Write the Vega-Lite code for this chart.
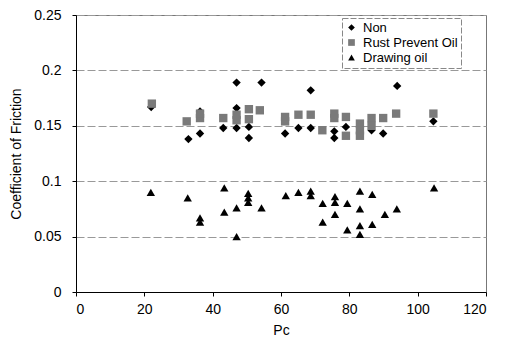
{
  "$schema": "https://vega.github.io/schema/vega-lite/v6.json",
  "width": 410,
  "height": 277,
  "autosize": "none",
  "padding": {"left": 76, "top": 15, "right": 23, "bottom": 47},
  "background": "white",
  "data": {"values": [
    {"pc": 22, "cof": 0.167, "s": "Non"},
    {"pc": 32.9, "cof": 0.138, "s": "Non"},
    {"pc": 36.3, "cof": 0.163, "s": "Non"},
    {"pc": 36.3, "cof": 0.143, "s": "Non"},
    {"pc": 43.1, "cof": 0.148, "s": "Non"},
    {"pc": 47, "cof": 0.189, "s": "Non"},
    {"pc": 47, "cof": 0.166, "s": "Non"},
    {"pc": 47, "cof": 0.148, "s": "Non"},
    {"pc": 50.6, "cof": 0.149, "s": "Non"},
    {"pc": 50.6, "cof": 0.139, "s": "Non"},
    {"pc": 54.3, "cof": 0.189, "s": "Non"},
    {"pc": 61.2, "cof": 0.143, "s": "Non"},
    {"pc": 65.1, "cof": 0.148, "s": "Non"},
    {"pc": 68.7, "cof": 0.182, "s": "Non"},
    {"pc": 68.7, "cof": 0.148, "s": "Non"},
    {"pc": 75.6, "cof": 0.145, "s": "Non"},
    {"pc": 75.6, "cof": 0.139, "s": "Non"},
    {"pc": 79, "cof": 0.149, "s": "Non"},
    {"pc": 86.5, "cof": 0.146, "s": "Non"},
    {"pc": 89.9, "cof": 0.143, "s": "Non"},
    {"pc": 94, "cof": 0.186, "s": "Non"},
    {"pc": 104.6, "cof": 0.154, "s": "Non"},
    {"pc": 22.2, "cof": 0.170, "s": "Rust Prevent Oil"},
    {"pc": 32.4, "cof": 0.154, "s": "Rust Prevent Oil"},
    {"pc": 36.3, "cof": 0.157, "s": "Rust Prevent Oil"},
    {"pc": 36.3, "cof": 0.161, "s": "Rust Prevent Oil"},
    {"pc": 43.1, "cof": 0.157, "s": "Rust Prevent Oil"},
    {"pc": 47, "cof": 0.155, "s": "Rust Prevent Oil"},
    {"pc": 47, "cof": 0.160, "s": "Rust Prevent Oil"},
    {"pc": 50.6, "cof": 0.165, "s": "Rust Prevent Oil"},
    {"pc": 50.6, "cof": 0.156, "s": "Rust Prevent Oil"},
    {"pc": 53.8, "cof": 0.164, "s": "Rust Prevent Oil"},
    {"pc": 61.2, "cof": 0.158, "s": "Rust Prevent Oil"},
    {"pc": 61.2, "cof": 0.154, "s": "Rust Prevent Oil"},
    {"pc": 65.1, "cof": 0.160, "s": "Rust Prevent Oil"},
    {"pc": 68.7, "cof": 0.160, "s": "Rust Prevent Oil"},
    {"pc": 72.1, "cof": 0.146, "s": "Rust Prevent Oil"},
    {"pc": 75.6, "cof": 0.161, "s": "Rust Prevent Oil"},
    {"pc": 75.6, "cof": 0.157, "s": "Rust Prevent Oil"},
    {"pc": 79, "cof": 0.158, "s": "Rust Prevent Oil"},
    {"pc": 79, "cof": 0.141, "s": "Rust Prevent Oil"},
    {"pc": 83.1, "cof": 0.152, "s": "Rust Prevent Oil"},
    {"pc": 83.1, "cof": 0.146, "s": "Rust Prevent Oil"},
    {"pc": 83.1, "cof": 0.141, "s": "Rust Prevent Oil"},
    {"pc": 86.5, "cof": 0.157, "s": "Rust Prevent Oil"},
    {"pc": 86.5, "cof": 0.150, "s": "Rust Prevent Oil"},
    {"pc": 89.9, "cof": 0.157, "s": "Rust Prevent Oil"},
    {"pc": 93.7, "cof": 0.161, "s": "Rust Prevent Oil"},
    {"pc": 104.6, "cof": 0.161, "s": "Rust Prevent Oil"},
    {"pc": 21.9, "cof": 0.090, "s": "Drawing oil"},
    {"pc": 32.7, "cof": 0.085, "s": "Drawing oil"},
    {"pc": 36.3, "cof": 0.067, "s": "Drawing oil"},
    {"pc": 36.3, "cof": 0.063, "s": "Drawing oil"},
    {"pc": 43.4, "cof": 0.094, "s": "Drawing oil"},
    {"pc": 43.4, "cof": 0.072, "s": "Drawing oil"},
    {"pc": 47, "cof": 0.076, "s": "Drawing oil"},
    {"pc": 47, "cof": 0.050, "s": "Drawing oil"},
    {"pc": 50.4, "cof": 0.089, "s": "Drawing oil"},
    {"pc": 50.4, "cof": 0.085, "s": "Drawing oil"},
    {"pc": 50.4, "cof": 0.081, "s": "Drawing oil"},
    {"pc": 54.3, "cof": 0.076, "s": "Drawing oil"},
    {"pc": 61.4, "cof": 0.087, "s": "Drawing oil"},
    {"pc": 65.1, "cof": 0.090, "s": "Drawing oil"},
    {"pc": 68.7, "cof": 0.091, "s": "Drawing oil"},
    {"pc": 68.7, "cof": 0.087, "s": "Drawing oil"},
    {"pc": 72.2, "cof": 0.080, "s": "Drawing oil"},
    {"pc": 72.2, "cof": 0.063, "s": "Drawing oil"},
    {"pc": 75.8, "cof": 0.086, "s": "Drawing oil"},
    {"pc": 75.8, "cof": 0.081, "s": "Drawing oil"},
    {"pc": 75.8, "cof": 0.070, "s": "Drawing oil"},
    {"pc": 79.4, "cof": 0.080, "s": "Drawing oil"},
    {"pc": 79.4, "cof": 0.056, "s": "Drawing oil"},
    {"pc": 83.1, "cof": 0.091, "s": "Drawing oil"},
    {"pc": 83.1, "cof": 0.075, "s": "Drawing oil"},
    {"pc": 83.1, "cof": 0.060, "s": "Drawing oil"},
    {"pc": 83.1, "cof": 0.052, "s": "Drawing oil"},
    {"pc": 86.7, "cof": 0.088, "s": "Drawing oil"},
    {"pc": 86.7, "cof": 0.061, "s": "Drawing oil"},
    {"pc": 90.4, "cof": 0.070, "s": "Drawing oil"},
    {"pc": 93.9, "cof": 0.075, "s": "Drawing oil"},
    {"pc": 104.8, "cof": 0.094, "s": "Drawing oil"}
  ]},
  "mark": {"type": "point", "filled": true, "opacity": 1, "size": 70},
  "encoding": {
    "x": {"field": "pc", "type": "quantitative", "title": "Pc",
      "scale": {"domain": [0, 120], "nice": false, "zero": true},
      "axis": {"values": [0, 20, 40, 60, 80, 100, 120], "grid": false, "domainColor": "#000", "tickColor": "#000", "tickSize": 4, "labelPadding": 6, "titlePadding": 7}},
    "y": {"field": "cof", "type": "quantitative", "title": "Coefficient of Friction",
      "scale": {"domain": [0, 0.25], "nice": false},
      "axis": {"values": [0, 0.05, 0.1, 0.15, 0.2, 0.25], "format": ".2~f", "grid": true, "gridColor": "#999", "gridDash": [8, 3], "domainColor": "#000", "tickColor": "#000", "tickSize": 4, "labelPadding": 11, "titlePadding": 10}},
    "shape": {"field": "s", "type": "nominal", "title": null,
      "scale": {"domain": ["Non", "Rust Prevent Oil", "Drawing oil"], "range": ["diamond", "square", "triangle-up"]}},
    "color": {"field": "s", "type": "nominal", "title": null,
      "scale": {"domain": ["Non", "Rust Prevent Oil", "Drawing oil"], "range": ["#000000", "#7a7a7a", "#000000"]}}
  },
  "config": {
    "font": "Liberation Sans",
    "view": {"stroke": "#777", "strokeWidth": 1},
    "axis": {"labelFont": "Liberation Sans", "titleFont": "Liberation Sans", "labelFontSize": 14, "titleFontSize": 14, "titleFontWeight": "normal", "labelColor": "#000", "titleColor": "#000"},
    "legend": {"orient": "none", "legendX": 266, "legendY": 3, "strokeColor": "#888", "strokeDash": [6, 2], "fillColor": "white", "padding": 3, "labelFont": "Liberation Sans", "labelFontSize": 13, "labelColor": "#000", "symbolSize": 45, "rowPadding": 1, "labelOffset": 5, "symbolOffset": 0}
  }
}
